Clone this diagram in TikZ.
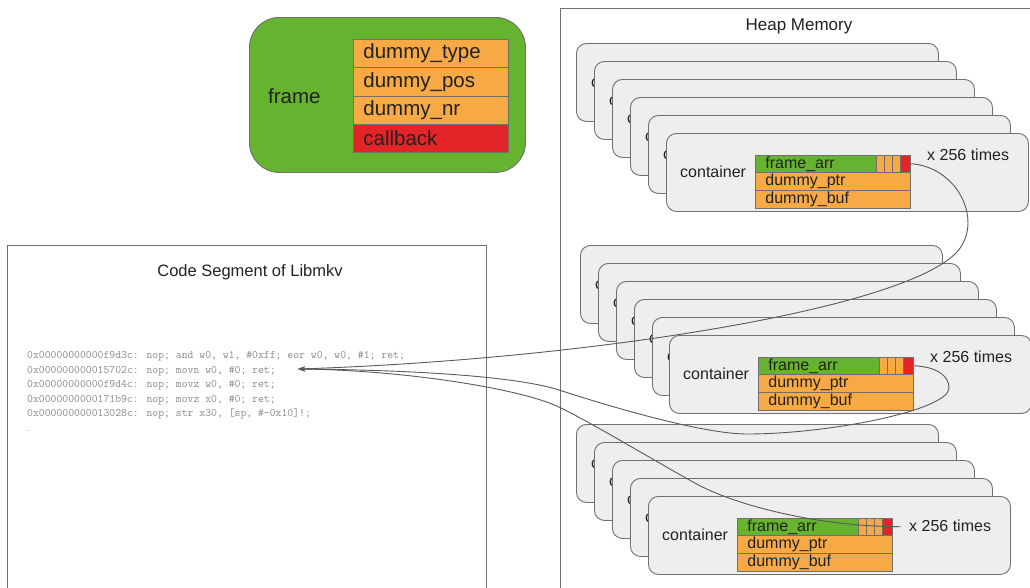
\documentclass[tikz,border=0pt]{standalone}
\usepackage{fontspec}
\setmainfont{Liberation Sans}
\newfontfamily\codefont{Liberation Mono}
\usetikzlibrary{arrows.meta}
\definecolor{fgreen}{HTML}{65B32E}
\definecolor{forange}{HTML}{F6A945}
\definecolor{fred}{HTML}{E3252A}
\definecolor{cardfill}{HTML}{EEEEEE}
\definecolor{edgegray}{HTML}{707070}
\definecolor{conngray}{HTML}{5A5A5A}
\definecolor{codegray}{HTML}{8A8A8A}
\definecolor{txt}{HTML}{222222}
\newcommand{\frontcard}[4]{%
  \node[card] (#1) at (#2,#3) {};
  \node[lbl, anchor=west] (#1c) at (#2+14,#3+39) {container};
  \node[fcell, fill=fgreen, text width=101pt] (#1a) at (#2+89,#3+21.5) {frame\_arr};
  \node[scell, fill=forange] (#1s1) at (#2+210,#3+21.5) {};
  \node[scell, fill=forange] (#1s2) at (#2+218,#3+21.5) {};
  \node[scell, fill=forange] (#1s3) at (#2+226,#3+21.5) {};
  \node[scell, fill=fred, minimum width=10pt] (#1r) at (#2+234,#3+21.5) {};
  \node[fcell, fill=forange, text width=135pt] (#1p) at (#2+89,#3+39.3) {dummy\_ptr};
  \node[fcell, fill=forange, text width=135pt] (#1b) at (#2+89,#3+57.1) {dummy\_buf};
  \node[lbl, anchor=west] (#1x) at (#2+261,#3+#4) {x 256 times};
}
\begin{document}
\begin{tikzpicture}[x=1pt,y=-1pt,
  card/.style={draw=edgegray, fill=cardfill, rounded corners=10pt, minimum width=362pt,
    minimum height=78pt, anchor=north west, inner sep=0pt, line width=0.9pt},
  lbl/.style={font=\fontsize{16}{16}\selectfont, text=txt, inner sep=0pt},
  fcell/.style={draw=edgegray, line width=0.8pt, anchor=north west, inner xsep=10pt, inner ysep=0pt,
    minimum height=17.8pt, align=left, font=\fontsize{16}{16}\selectfont, text=txt},
  scell/.style={draw=edgegray, line width=0.6pt, anchor=north west, inner sep=0pt,
    minimum height=17.8pt, minimum width=8pt},
  bigcell/.style={draw=edgegray, line width=0.8pt, anchor=north west, inner xsep=10pt, inner ysep=0pt,
    minimum height=28.3pt, text width=135pt, align=left, font=\fontsize{20.5}{20.5}\selectfont, text=txt},
  panel/.style={draw=edgegray, line width=0.9pt, fill=white, anchor=north west, inner sep=0pt},
  title/.style={font=\fontsize{17}{17}\selectfont, text=txt, inner sep=0pt},
  conn/.style={draw=conngray, line width=0.9pt, -{Stealth[length=7pt,width=5pt]}}
]
\useasboundingbox (0,0) rectangle (1030,587);
\clip (0,0) rectangle (1030,587);
\fill[white] (0,0) rectangle (1030,587);

% frame structure
\node[draw=edgegray, line width=0.9pt, fill=fgreen, rounded corners=30pt, anchor=north west,
  minimum width=276pt, minimum height=155pt, inner sep=0pt] (frame) at (249,17) {};
\node[font=\fontsize{20.5}{20.5}\selectfont, text=txt, anchor=west, inner sep=0pt] (framelbl) at (268,96) {frame};
\node[bigcell, fill=forange] (ft) at (353,39) {dummy\_type};
\node[bigcell, fill=forange] (fp) at (353,67.3) {dummy\_pos};
\node[bigcell, fill=forange] (fn) at (353,95.6) {dummy\_nr};
\node[bigcell, fill=fred] (fc) at (353,123.9) {callback};

% code segment
\node[panel, minimum width=479pt, minimum height=400pt] (code) at (7,245) {};
\node[title, font=\fontsize{16.5}{16.5}\selectfont] (codetitle) at (250,272) {Code Segment of Libmkv};
\node[anchor=base west, align=left, inner sep=0pt, text=codegray,
  font=\ttfamily\fontsize{11.4}{14.6}\selectfont] (codetext) at (27,431.5)
  {0x00000000000f9d3c: nop; and w0, w1, \#0xff; eor w0, w0, \#1; ret;\\
   0x000000000015702c: nop; movn w0, \#0; ret;\\
   0x00000000000f9d4c: nop; movz w0, \#0; ret;\\
   0x0000000000171b9c: nop; movz x0, \#0; ret;\\
   0x000000000013028c: nop; str x30, [sp, \#-0x10]!;\\
   {\codefont\fontsize{6}{14.6}\selectfont …}};
\coordinate (tip) at (298,369);

% heap memory
\node[panel, minimum width=500pt, minimum height=600pt] (heap) at (560,8) {};
\node[title] (heaptitle) at (799,26) {Heap Memory};

% top stack
\foreach \i in {0,...,4} {
  \node[card] (t\i) at (576+18*\i,43+18*\i) {};
  \node[lbl, anchor=west] (t\i c) at (576+18*\i+15,43+18*\i+39) {container};
}
\frontcard{T}{666}{133}{22}

% middle stack
\foreach \i in {0,...,4} {
  \node[card] (m\i) at (580+18*\i,245+18*\i) {};
  \node[lbl, anchor=west] (m\i c) at (580+18*\i+15,245+18*\i+39) {container};
}
\frontcard{M}{669}{335}{22}

% bottom stack
\foreach \i in {0,...,3} {
  \node[card] (b\i) at (576+18*\i,424+18*\i) {};
  \node[lbl, anchor=west] (b\i c) at (576+18*\i+15,424+18*\i+39) {container};
}
\frontcard{B}{648}{496}{30}

% connectors
\coordinate (c1m) at (962,245);
\draw[conn] (Tr.east) .. controls +(45,3) and +(18,-30) .. (c1m)
  .. controls +(-32,60) and +(302,-10) .. (tip);
\coordinate (c2a) at (949,388);
\coordinate (c2b) at (747,434);
\coordinate (c2c) at (559,390);
\draw[conn] (Mr.east) .. controls +(22,1) and +(0,-13) .. (c2a)
  .. controls +(0,22) and +(83,0) .. (c2b)
  .. controls +(-47,0) and +(40,13) .. (c2c)
  .. controls +(-40,-13) and +(122,1) .. (tip);
\coordinate (c3s) at ([xshift=8pt]Br.east);
\coordinate (c3a) at (693,482);
\coordinate (c3b) at (559,407);
\draw[conn] (c3s) .. controls +(-80,0) and +(42,24) .. (c3a)
  .. controls +(-43,-24) and +(31,15) .. (c3b)
  .. controls +(-40,-19) and +(102,1) .. (tip);
\end{tikzpicture}
\end{document}
